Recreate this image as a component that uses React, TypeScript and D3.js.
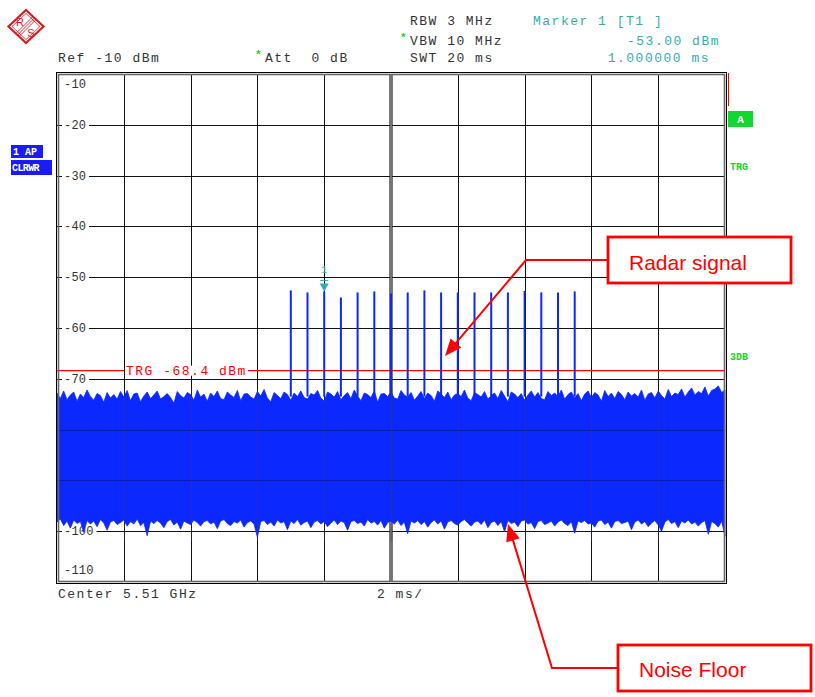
import React from "react";
import * as d3 from "d3";

// ---------- data ----------
const timeTicks = [0, 2, 4, 6, 8, 10, 12, 14, 16, 18, 20]; // ms
const levelTicks = [-10, -20, -30, -40, -50, -60, -70, -80, -90, -100, -110]; // dBm
const levelLabels = ["-10", "-20", "-30", "-40", "-50", "-60", "-70", "", "", "-100", "-110"];

const pulseTimes = [7.0, 7.5, 8.0, 8.5, 9.0, 9.5, 10.0, 10.5, 11.0, 11.5, 12.0, 12.5, 13.0, 13.5, 14.0, 14.5, 15.0, 15.5];
const pulsePeaks = [-52.6, -53.0, -52.8, -54.0, -53.0, -52.8, -53.2, -53.0, -52.6, -53.0, -53.0, -53.0, -53.0, -53.0, -52.7, -53.0, -53.0, -52.8];

const noiseStep = 0.1; // ms between envelope samples
const noiseTop = [
  -72.8,-73.9,-72.4,-74.1,-73.2,-72.6,-74.4,-73.0,-73.7,-72.2,
  -73.5,-74.2,-72.9,-73.3,-74.6,-72.7,-73.8,-73.1,-74.0,-72.5,
  -73.6,-72.3,-74.3,-73.0,-72.8,-74.5,-73.4,-72.6,-73.9,-73.2,
  -72.4,-74.0,-73.5,-72.9,-73.7,-74.8,-72.5,-73.3,-73.8,-72.7,
  -73.1,-74.2,-72.2,-73.6,-73.0,-74.4,-72.8,-73.5,-72.4,-73.9,
  -74.1,-72.6,-73.2,-73.7,-72.3,-74.3,-73.0,-72.9,-73.6,-74.0,
  -72.5,-73.4,-72.1,-73.8,-74.5,-72.7,-73.3,-73.9,-72.6,-73.1,
  -74.2,-72.8,-73.5,-72.4,-73.7,-74.0,-72.9,-73.2,-72.3,-73.8,
  -74.4,-72.6,-73.0,-73.6,-72.5,-74.1,-73.3,-72.7,-73.9,-72.2,
  -73.4,-74.3,-72.8,-73.1,-73.7,-72.4,-74.6,-73.0,-72.9,-73.5,
  -72.6,-73.8,-74.0,-72.3,-73.2,-73.6,-72.7,-74.2,-73.4,-72.5,
  -73.9,-72.8,-73.3,-74.4,-72.4,-73.0,-73.7,-72.6,-74.1,-73.2,
  -72.9,-73.5,-72.2,-73.8,-74.3,-72.7,-73.1,-73.6,-72.5,-74.0,
  -73.3,-72.8,-73.9,-72.3,-73.4,-74.5,-72.6,-73.0,-73.7,-72.9,
  -74.2,-73.2,-72.4,-73.6,-72.7,-73.9,-74.1,-72.5,-73.3,-72.8,
  -73.5,-72.2,-74.0,-73.1,-72.6,-73.8,-72.9,-74.3,-73.0,-72.4,
  -73.7,-72.7,-73.2,-74.4,-72.3,-73.5,-72.8,-73.9,-72.5,-73.1,
  -74.1,-72.6,-73.4,-72.9,-73.6,-72.2,-74.2,-73.0,-72.7,-73.8,
  -72.4,-73.3,-74.0,-72.1,-73.5,-72.8,-73.1,-72.0,-73.6,-72.6,
  -71.8,-73.2,-72.5,-72.9,-71.6,-73.4,-72.3,-72.0,-71.4,-72.7,
  -72.2,
];
const noiseBottom = [
  -98.2,-97.6,-98.9,-98.0,-99.4,-97.8,-98.5,-98.1,-100.2,-97.9,
  -98.6,-98.0,-99.1,-97.7,-98.4,-99.8,-98.2,-97.9,-98.7,-98.3,
  -97.8,-99.0,-98.1,-98.6,-97.6,-98.9,-98.3,-100.9,-98.0,-98.5,
  -97.9,-98.4,-99.3,-98.1,-97.7,-98.8,-98.2,-99.6,-98.0,-98.4,
  -98.7,-97.8,-98.3,-99.0,-98.1,-97.9,-98.6,-98.2,-99.5,-98.0,
  -97.7,-98.5,-98.9,-98.1,-98.4,-97.8,-99.2,-98.3,-98.0,-98.6,
  -101.2,-98.1,-97.9,-98.7,-98.2,-99.0,-97.8,-98.4,-98.1,-99.7,
  -98.0,-98.5,-97.7,-98.8,-98.3,-98.0,-99.3,-98.2,-97.9,-98.6,
  -98.1,-99.1,-98.4,-97.8,-98.7,-98.0,-98.3,-99.8,-98.1,-97.9,
  -98.5,-98.2,-99.0,-97.7,-98.4,-98.1,-98.8,-97.9,-99.4,-98.3,
  -98.0,-98.6,-97.8,-98.9,-98.2,-100.5,-98.0,-98.4,-97.9,-98.7,
  -98.1,-99.2,-98.3,-97.8,-98.6,-98.0,-99.6,-98.2,-97.9,-98.5,
  -98.8,-98.1,-97.7,-98.4,-99.0,-98.2,-98.0,-98.7,-97.8,-99.3,
  -98.3,-98.0,-98.9,-98.1,-100.1,-97.9,-98.5,-98.2,-99.1,-98.0,
  -97.8,-98.6,-98.3,-99.5,-98.1,-97.9,-98.7,-98.4,-98.0,-99.0,
  -98.2,-97.8,-98.5,-98.9,-98.1,-100.4,-98.0,-98.3,-97.9,-98.6,
  -98.4,-99.2,-98.0,-97.8,-98.7,-98.2,-99.4,-98.1,-97.9,-98.5,
  -98.3,-98.0,-99.7,-98.2,-97.8,-98.6,-98.1,-99.1,-98.4,-97.9,
  -98.8,-100.0,-98.2,-97.7,-98.5,-98.1,-99.3,-98.0,-98.4,-97.8,
  -98.6,-98.2,-99.0,-98.3,-97.9,-100.6,-98.1,-98.5,-99.2,-98.0,
  -101.0,
];
const pulseBase = -73.5;
const triggerLevel = -68.4;
const markerTime = 8.0;
const markerLevel = -53.0;

// ---------- layout ----------
const W = 815, H = 697;
const PL = 57, PR = 725, PT = 74, PB = 582;
const MONO = "'Liberation Mono', 'DejaVu Sans Mono', monospace";
const SANS = "'Liberation Sans', Arial, sans-serif";
const BLUE = "#0a28ff";
const TEAL = "#33adad";
const GREEN = "#1ed21e";
const RED = "#ff0000";

function arrowHead(x1: number, y1: number, x2: number, y2: number, len = 17, half = 7) {
  const dx = x2 - x1, dy = y2 - y1;
  const L = Math.hypot(dx, dy);
  const ux = dx / L, uy = dy / L;
  const bx = x2 - ux * len, by = y2 - uy * len;
  const px = -uy * half, py = ux * half;
  return `M${x2},${y2}L${bx + px},${by + py}L${bx - px},${by - py}Z`;
}

export default function App() {
  const x = d3.scaleLinear().domain([0, 20]).range([PL, PR]);
  const y = d3.scaleLinear().domain([-10, -110]).range([PT, PB]);

  const noise = noiseTop.map((t, i) => ({ t: i * noiseStep, hi: t, lo: noiseBottom[i] }));
  const area = d3
    .area<{ t: number; hi: number; lo: number }>()
    .x((d) => x(d.t))
    .y0((d) => y(d.lo))
    .y1((d) => y(d.hi));

  const txt = { fontFamily: MONO, fontSize: 13, letterSpacing: 1.5, fill: "#333", style: { whiteSpace: "pre" as const } };

  // annotation geometry
  const rA = { x1: 607, y1: 260, mx: 526, my: 260, tx: 445, ty: 356 };
  const nA = { x1: 617, y1: 668, mx: 552, my: 668, tx: 508, ty: 524 };

  return (
    <svg width={W} height={H} style={{ position: "absolute", left: 0, top: 0, background: "#fff" }}>
      <rect width={W} height={H} fill="#fff" />

      {/* R&S logo */}
      <g transform="translate(26,26.5)">
        <path d="M0,-16.5L17.5,0L0,16.5L-17.5,0Z" fill="#fff" stroke="#d42020" strokeWidth={2.2} />
        <path d="M0,-13L14,0L0,13L-14,0Z" fill="none" stroke="#d42020" strokeWidth={0.8} />
        {[-2.2, 0, 2.2].map((o) => (
          <line key={o} x1={-8 + o * 0.7} y1={8 + o * 0.7} x2={8 + o * 0.7} y2={-8 + o * 0.7} stroke="#d42020" strokeWidth={0.9} />
        ))}
        <text x={-6} y={-1} fontFamily={SANS} fontSize={11} fill="#d42020" textAnchor="middle">R</text>
        <text x={5} y={10} fontFamily={SANS} fontSize={11} fill="#d42020" textAnchor="middle">S</text>
      </g>

      {/* header */}
      <text x={58} y={62} {...txt}>Ref -10 dBm</text>
      <text x={255} y={58} fontFamily={MONO} fontSize={11} fill={GREEN} fontWeight="bold">*</text>
      <text x={265} y={62} {...txt}>{"Att  0 dB"}</text>
      <text x={410} y={25} {...txt}>RBW 3 MHz</text>
      <text x={400} y={41} fontFamily={MONO} fontSize={11} fill={GREEN} fontWeight="bold">*</text>
      <text x={410} y={45} {...txt}>VBW 10 MHz</text>
      <text x={410} y={62} {...txt}>SWT 20 ms</text>
      <text x={533} y={25} {...txt} fill={TEAL}>Marker 1 [T1 ]</text>
      <text x={720} y={45} {...txt} fill={TEAL} textAnchor="end">-53.00 dBm</text>
      <text x={710} y={62} {...txt} fill={TEAL} textAnchor="end">1.000000 ms</text>

      {/* left side labels */}
      <rect x={11} y={145} width={32} height={13} fill="#1a1aff" />
      <text x={13} y={155} fontFamily={MONO} fontSize={10} fontWeight="bold" fill="#fff">1 AP</text>
      <rect x={11} y={160} width={41} height={15} fill="#1a1aff" />
      <text x={12} y={171} fontFamily={MONO} fontSize={10} fontWeight="bold" fill="#fff" letterSpacing={-0.6}>CLRWR</text>

      {/* right side labels */}
      <line x1={728.5} y1={73} x2={728.5} y2={106} stroke={RED} strokeWidth={1} />
      <rect x={728} y={111} width={25} height={16} fill="#10d830" />
      <text x={740.5} y={123} fontFamily={MONO} fontSize={11} fontWeight="bold" fill="#fff" textAnchor="middle">A</text>
      <text x={730} y={170} fontFamily={MONO} fontSize={10} fontWeight="bold" fill={GREEN}>TRG</text>
      <text x={730} y={360} fontFamily={MONO} fontSize={10} fontWeight="bold" fill={GREEN}>3DB</text>

      {/* grid */}
      {levelTicks.slice(1, -1).map((v) => (
        <line key={"h" + v} x1={PL} x2={PR} y1={Math.round(y(v)) + 0.5} y2={Math.round(y(v)) + 0.5} stroke="#111" strokeWidth={1} />
      ))}
      {timeTicks.slice(1, -1).map((t) =>
        t === 10 ? null : (
          <line key={"v" + t} x1={Math.round(x(t)) + 0.5} x2={Math.round(x(t)) + 0.5} y1={PT} y2={PB} stroke="#111" strokeWidth={1} />
        )
      )}
      <line x1={x(10)} x2={x(10)} y1={PT} y2={PB} stroke="#222" strokeWidth={3.2} />
      <line x1={x(10)} x2={x(10)} y1={PT} y2={PB} stroke="#8a8a8a" strokeWidth={1.6} />

      {/* level labels */}
      {levelTicks.map((v, i) => {
        const lab = levelLabels[i];
        if (!lab) return null;
        const first = i === 0, last = i === levelTicks.length - 1;
        const by = first ? y(v) + 14 : last ? y(v) - 8 : y(v) + 4;
        return (
          <g key={"l" + v}>
            {!first && !last && <rect x={62} y={y(v) - 4} width={27 + (lab.length - 3) * 7.5} height={8} fill="#fff" />}
            <text x={64} y={by} fontFamily={MONO} fontSize={12} letterSpacing={0.2} fill="#333">{lab}</text>
          </g>
        );
      })}

      {/* trigger line */}
      <line x1={PL} x2={PR} y1={y(triggerLevel)} y2={y(triggerLevel)} stroke={RED} strokeWidth={1.2} />
      <rect x={125} y={y(triggerLevel) - 5} width={123} height={10} fill="#fff" />
      <text x={126} y={y(triggerLevel) + 4.5} {...txt} fill={RED}>TRG -68.4 dBm</text>

      {/* trace: noise + pulses */}
      <path d={area(noise) || ""} fill={BLUE} stroke={BLUE} strokeWidth={0.8} />
      {pulseTimes.map((t, i) => (
        <line key={"p" + t} x1={x(t)} x2={x(t)} y1={y(pulseBase)} y2={y(pulsePeaks[i])} stroke={BLUE} strokeWidth={2} />
      ))}

      {/* grid showing through the trace */}
      {[-80, -90].map((v) => (
        <line key={"hh" + v} x1={PL} x2={PR} y1={Math.round(y(v)) + 0.5} y2={Math.round(y(v)) + 0.5} stroke="#001070" strokeWidth={1} opacity={0.5} />
      ))}
      {timeTicks.slice(1, -1).map((t) => (
        <line key={"vv" + t} x1={Math.round(x(t)) + 0.5} x2={Math.round(x(t)) + 0.5} y1={y(-72)} y2={y(-102)} stroke="#444" strokeWidth={t === 10 ? 2 : 1} opacity={0.35} />
      ))}

      {/* marker */}
      <text x={x(markerTime)} y={y(markerLevel) - 19} fontFamily={MONO} fontSize={10} fill={TEAL} textAnchor="middle">1</text>
      <path
        d={`M${x(markerTime) - 4.5},${y(markerLevel) - 9}L${x(markerTime) + 4.5},${y(markerLevel) - 9}L${x(markerTime)},${y(markerLevel) - 1}Z`}
        fill={TEAL}
      />
      <line x1={x(markerTime) - 4} x2={x(markerTime) + 4} y1={y(markerLevel) - 12} y2={y(markerLevel) - 12} stroke={TEAL} strokeWidth={1} />

      {/* frame */}
      <rect x={56.5} y={72.5} width={670} height={511} fill="none" stroke="#000" strokeWidth={1} />
      <rect x={58.5} y={74.5} width={666} height={507} fill="none" stroke="#666" strokeWidth={1.6} />

      {/* bottom labels */}
      <text x={58} y={598} {...txt}>Center 5.51 GHz</text>
      <text x={377} y={598} {...txt}>2 ms/</text>

      {/* annotation: radar signal */}
      <polyline points={`${rA.x1},${rA.y1} ${rA.mx},${rA.my} ${rA.tx + (rA.mx - rA.tx) * 0.1},${rA.ty - (rA.ty - rA.my) * 0.1}`} fill="none" stroke={RED} strokeWidth={2} />
      <path d={arrowHead(rA.mx, rA.my, rA.tx, rA.ty)} fill={RED} />
      <rect x={608} y={237} width={183} height={46} fill="#fff" stroke={RED} strokeWidth={2.8} />
      <text x={629} y={270} fontFamily={SANS} fontSize={21} fill={RED}>Radar signal</text>

      {/* annotation: noise floor */}
      <polyline points={`${nA.x1},${nA.y1} ${nA.mx},${nA.my} ${nA.tx + (nA.mx - nA.tx) * 0.1},${nA.ty + (nA.my - nA.ty) * 0.1}`} fill="none" stroke={RED} strokeWidth={2} />
      <path d={arrowHead(nA.mx, nA.my, nA.tx, nA.ty)} fill={RED} />
      <rect x={618} y={645} width={193} height={46} fill="#fff" stroke={RED} strokeWidth={2.8} />
      <text x={639} y={677} fontFamily={SANS} fontSize={21} fill={RED}>Noise Floor</text>
    </svg>
  );
}
